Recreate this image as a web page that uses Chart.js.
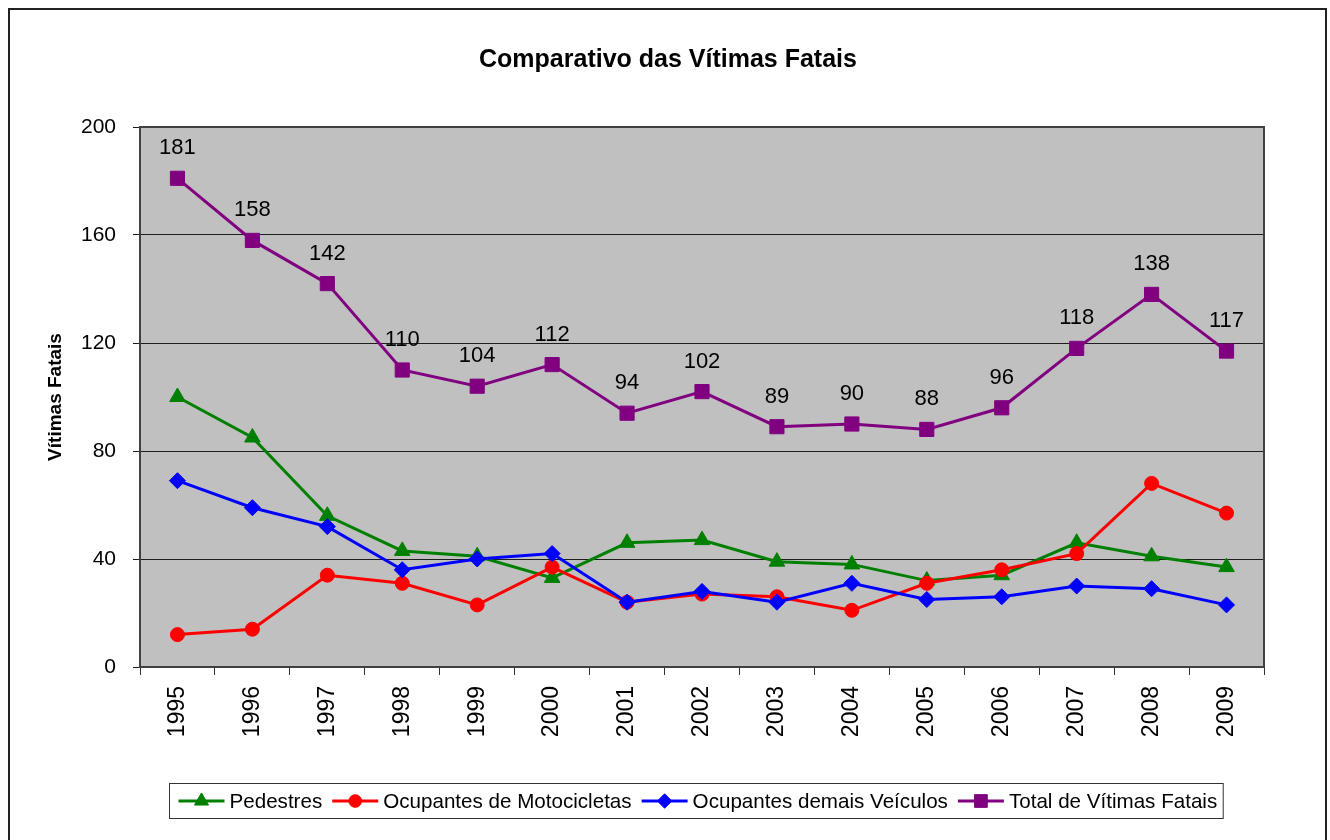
<!DOCTYPE html>
<html lang="pt">
<head>
<meta charset="utf-8">
<title>Comparativo das Vítimas Fatais</title>
<script src="https://cdn.jsdelivr.net/npm/chart.js@4.4.1/dist/chart.umd.min.js"></script>
<style>
  html, body { margin: 0; padding: 0; background: #ffffff; }
  #wrap { width: 1330px; height: 840px; position: relative; }
  canvas { display: block; }
</style>
</head>
<body>
<div id="wrap"><canvas id="chart" width="1330" height="840"></canvas></div>
<script>
// Anos e séries de vítimas fatais
const years = ['1995', '1996', '1997', '1998', '1999', '2000', '2001', '2002',
               '2003', '2004', '2005', '2006', '2007', '2008', '2009'];
const pedestres      = [100, 85, 56, 43, 41, 33, 46, 47, 39, 38, 32, 34, 46, 41, 37];
const motocicletas   = [12, 14, 34, 31, 23, 37, 24, 27, 26, 21, 31, 36, 42, 68, 57];
const demaisVeiculos = [69, 59, 52, 36, 40, 42, 24, 28, 24, 31, 25, 26, 30, 29, 23];
const totalVitimas   = [181, 158, 142, 110, 104, 112, 94, 102, 89, 90, 88, 96, 118, 138, 117];
const yTicks = [0, 40, 80, 120, 160, 200];

const seriesNames = ['Pedestres', 'Ocupantes de Motocicletas', 'Ocupantes demais Veículos', 'Total de Vítimas Fatais'];
const seriesData = [pedestres, motocicletas, demaisVeiculos, totalVitimas];
const seriesColors = ['#008000', '#FF0000', '#0000FF', '#800080'];
const seriesMarkers = ['triangle', 'circle', 'rectRot', 'rect'];
const markerRadius = [9, 7, 8, 10];

const FONT = '"Liberation Sans", Arial, Helvetica, sans-serif';
Chart.defaults.font.family = FONT;
Chart.defaults.color = '#000000';

// Fundo branco, moldura externa e área de plotagem cinza
const framePlugin = {
  id: 'frame',
  beforeDraw(chart) {
    const { ctx, chartArea: a } = chart;
    ctx.save();
    ctx.fillStyle = '#ffffff';
    ctx.fillRect(0, 0, chart.width, chart.height);
    ctx.fillStyle = '#C0C0C0';
    ctx.fillRect(a.left, a.top, a.right - a.left, a.bottom - a.top);
    ctx.strokeStyle = '#222222';
    ctx.lineWidth = 2;
    ctx.beginPath();
    ctx.moveTo(9, chart.height + 2);
    ctx.lineTo(9, 9);
    ctx.lineTo(1326, 9);
    ctx.lineTo(1326, chart.height + 2);
    ctx.stroke();
    ctx.restore();
  },
  beforeDatasetsDraw(chart) {
    const { ctx, chartArea: a } = chart;
    ctx.save();
    ctx.strokeStyle = '#404040';
    ctx.lineWidth = 2;
    ctx.strokeRect(a.left, a.top, a.right - a.left, a.bottom - a.top);
    ctx.restore();
  }
};

// Rótulos de valor sobre a série total
const totalLabelsPlugin = {
  id: 'totalLabels',
  afterDatasetsDraw(chart) {
    const { ctx } = chart;
    const idx = 3;
    const meta = chart.getDatasetMeta(idx);
    const values = chart.data.datasets[idx].data;
    ctx.save();
    ctx.font = '22px ' + FONT;
    ctx.fillStyle = '#000000';
    ctx.textAlign = 'center';
    ctx.textBaseline = 'middle';
    meta.data.forEach((pt, i) => {
      ctx.fillText(String(values[i]), pt.x, pt.y - 30);
    });
    ctx.restore();
  }
};

function drawMarker(ctx, style, radius, x, y, color) {
  ctx.fillStyle = color;
  ctx.strokeStyle = color;
  ctx.lineWidth = 1;
  Chart.helpers.drawPoint(ctx, { pointStyle: style, rotation: 0, radius: radius, borderWidth: 1 }, x, y);
}

// Legenda em caixa: segmento de linha com marcador e nome da série
const boxLegendPlugin = {
  id: 'boxLegend',
  afterDraw(chart) {
    const { ctx, chartArea: a } = chart;
    const lineLen = 46, textGap = 5, itemGap = 10, padL = 9, padR = 6;
    const boxH = 35;
    ctx.save();
    ctx.font = '20.6px ' + FONT;
    const widths = seriesNames.map(n => ctx.measureText(n).width);
    const total = padL + padR + widths.reduce((s, w) => s + lineLen + textGap + w, 0) + itemGap * (seriesNames.length - 1);
    const cx = (a.left + a.right) / 2 - 6;
    const left = Math.round(cx - total / 2) + 0.5;
    const top = a.bottom + 116.5;
    ctx.fillStyle = '#ffffff';
    ctx.fillRect(left, top, total, boxH);
    ctx.strokeStyle = '#333333';
    ctx.lineWidth = 1;
    ctx.strokeRect(left, top, total, boxH);
    const cy = top + boxH / 2;
    let x = left + padL;
    seriesNames.forEach((name, i) => {
      ctx.strokeStyle = seriesColors[i];
      ctx.lineWidth = 3;
      ctx.beginPath();
      ctx.moveTo(x, cy);
      ctx.lineTo(x + lineLen, cy);
      ctx.stroke();
      drawMarker(ctx, seriesMarkers[i], markerRadius[i] * 0.9, x + lineLen / 2, cy, seriesColors[i]);
      ctx.fillStyle = '#000000';
      ctx.textAlign = 'left';
      ctx.textBaseline = 'middle';
      ctx.fillText(name, x + lineLen + textGap, cy + 1);
      x += lineLen + textGap + widths[i] + itemGap;
    });
    ctx.restore();
  }
};

const datasets = seriesNames.map((name, i) => ({
  label: name,
  data: seriesData[i],
  borderColor: seriesColors[i],
  backgroundColor: seriesColors[i],
  pointBackgroundColor: seriesColors[i],
  pointBorderColor: seriesColors[i],
  pointStyle: seriesMarkers[i],
  pointRadius: markerRadius[i],
  pointBorderWidth: 1,
  borderWidth: 3,
  tension: 0,
  fill: false,
  order: seriesNames.length - i
}));

new Chart(document.getElementById('chart'), {
  type: 'line',
  data: { labels: years, datasets: datasets },
  plugins: [framePlugin, totalLabelsPlugin, boxLegendPlugin],
  options: {
    responsive: false,
    animation: false,
    devicePixelRatio: 1,
    layout: { padding: { left: 8, right: 2, top: 0, bottom: 0 } },
    plugins: {
      legend: { display: false },
      tooltip: { enabled: false },
      title: {
        display: true,
        text: 'Comparativo das Vítimas Fatais',
        font: { size: 25, weight: 'bold', family: FONT },
        color: '#000000',
        padding: { top: 45, bottom: 52 }
      }
    },
    scales: {
      x: {
        type: 'category',
        offset: true,
        grid: { offset: true, drawOnChartArea: false, drawTicks: true, tickLength: 8, color: '#333333', lineWidth: 1 },
        border: { display: false },
        ticks: { minRotation: 90, maxRotation: 90, padding: 11, font: { size: 23 }, color: '#000000', autoSkip: false },
        afterFit(scale) { scale.height = 173; }
      },
      y: {
        type: 'linear',
        min: 0,
        max: 200,
        grid: { color: '#1e1e1e', lineWidth: 1, tickLength: 7, drawTicks: true },
        border: { display: false },
        ticks: { padding: 17, font: { size: 21 }, color: '#000000' },
        afterBuildTicks(scale) { scale.ticks = yTicks.map(v => ({ value: v })); },
        title: {
          display: true,
          text: 'Vítimas Fatais',
          font: { size: 19, weight: 'bold', family: FONT },
          color: '#000000',
          padding: { top: 36, bottom: 0 }
        },
        afterFit(scale) { scale.width = 132; }
      },
      spacer: {
        type: 'linear',
        position: 'right',
        display: true,
        grid: { display: false, drawTicks: false },
        border: { display: false },
        ticks: { display: false },
        afterFit(scale) { scale.width = 64; }
      }
    }
  }
});
</script>
</body>
</html>
